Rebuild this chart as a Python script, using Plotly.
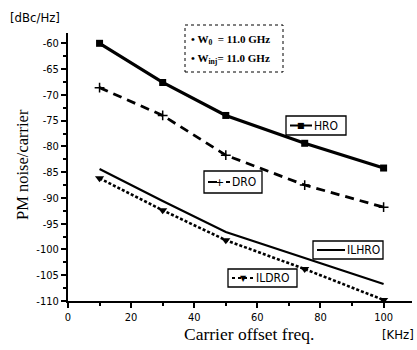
import plotly.graph_objects as go

freq = [10, 30, 50, 75, 100]
hro = [-60.0, -67.6, -74.0, -79.4, -84.2]
dro = [-68.6, -74.0, -81.7, -87.5, -91.8]
ilhro = [-84.4, -90.6, -96.6, -101.6, -106.7]
ildro = [-86.2, -92.4, -98.2, -103.8, -109.8]

x_ticks = [0, 20, 40, 60, 80, 100]
y_ticks = [-60, -65, -70, -75, -80, -85, -90, -95, -100, -105, -110]

W, H = 417, 350
L, R, T, B = 68, 5, 33, 49
PW, PH = W - L - R, H - T - B

def px(x):
    return (x - L) / PW

def py(y):
    return (H - B - y) / PH

NARROW = "DejaVu Sans Condensed, Liberation Sans, Arial, sans-serif"
SERIF = "Liberation Serif, Times New Roman, serif"

fig = go.Figure()
fig.add_trace(go.Scatter(x=freq, y=hro, mode="lines+markers", name="HRO",
                         line=dict(color="black", width=3.2),
                         marker=dict(symbol="square", size=7, color="black")))
fig.add_trace(go.Scatter(x=freq, y=dro, mode="lines+markers", name="DRO",
                         line=dict(color="black", width=2.8, dash="9px,6px"),
                         marker=dict(symbol="cross-thin", size=7, line=dict(width=1.5, color="black"))))
fig.add_trace(go.Scatter(x=freq, y=ilhro, mode="lines", name="ILHRO",
                         line=dict(color="black", width=2.2)))
fig.add_trace(go.Scatter(x=freq, y=ildro, mode="lines+markers", name="ILDRO",
                         line=dict(color="black", width=2.6, dash="3px,2px"),
                         marker=dict(symbol="triangle-down", size=8, color="black")))

shapes = []
annotations = []

boxes = [
    ("HRO", 286, 116, 346, 135, "solid", "■"),
    ("DRO", 204, 171, 262, 193, "dash", "+"),
    ("ILHRO", 313, 241, 383, 259, "solid", ""),
    ("ILDRO", 228, 269, 297, 287, "dot", "▼"),
]
for label, x0, y0, x1, y1, dash, mk in boxes:
    shapes.append(dict(type="rect", xref="paper", yref="paper",
                       x0=px(x0), x1=px(x1), y0=py(y1), y1=py(y0),
                       line=dict(color="black", width=1.3), fillcolor="white", layer="above"))
    ym = (y0 + y1) / 2
    lx0, lx1 = x0 + 4, x0 + (26 if label != "ILHRO" else 32)
    shapes.append(dict(type="line", xref="paper", yref="paper",
                       x0=px(lx0), x1=px(lx1), y0=py(ym), y1=py(ym),
                       line=dict(color="black", width=2, dash=dash), layer="above"))
    if mk:
        annotations.append(dict(xref="paper", yref="paper", x=px((lx0 + lx1) / 2), y=py(ym),
                                text=mk, showarrow=False, xanchor="center", yanchor="middle",
                                font=dict(size=8 if mk != "+" else 11, color="black", family="DejaVu Sans")))
    annotations.append(dict(xref="paper", yref="paper", x=px(lx1), y=py(ym),
                            text=label, showarrow=False, xanchor="left", yanchor="middle",
                            font=dict(size=12, color="black", family=NARROW)))

# info box
shapes.append(dict(type="rect", xref="paper", yref="paper",
                   x0=px(185), x1=px(283), y0=py(72), y1=py(25),
                   line=dict(color="black", width=1, dash="dot"), fillcolor="white", layer="above"))
annotations.append(dict(xref="paper", yref="paper", x=px(189), y=py(40),
                        text="<b>• W<sub>0</sub>  = 11.0 GHz</b>", showarrow=False,
                        xanchor="left", yanchor="middle",
                        font=dict(size=11, color="black", family=SERIF)))
annotations.append(dict(xref="paper", yref="paper", x=px(189), y=py(59),
                        text="<b>• W<sub>inj</sub>= 11.0 GHz</b>", showarrow=False,
                        xanchor="left", yanchor="middle",
                        font=dict(size=11, color="black", family=SERIF)))

# axis titles
annotations.append(dict(xref="paper", yref="paper", x=px(8), y=py(17), text="[dBc/Hz]",
                        showarrow=False, xanchor="left", yanchor="middle",
                        font=dict(size=13, color="black", family=NARROW)))
annotations.append(dict(xref="paper", yref="paper", x=px(22), y=py(165), text="PM noise/carrier",
                        showarrow=False, textangle=-90, xanchor="center", yanchor="middle",
                        font=dict(size=16.5, color="black", family=SERIF)))
annotations.append(dict(xref="paper", yref="paper", x=px(249), y=py(334), text="Carrier offset freq.",
                        showarrow=False, xanchor="center", yanchor="middle",
                        font=dict(size=17.5, color="black", family=SERIF)))
annotations.append(dict(xref="paper", yref="paper", x=px(398), y=py(334), text="[KHz]",
                        showarrow=False, xanchor="center", yanchor="middle",
                        font=dict(size=13, color="black", family=NARROW)))

fig.update_layout(
    width=W, height=H,
    margin=dict(l=L, r=R, t=T, b=B),
    paper_bgcolor="white", plot_bgcolor="white",
    showlegend=False,
    shapes=shapes, annotations=annotations,
    xaxis=dict(range=[0, 109], tickvals=x_ticks, ticktext=[str(v) for v in x_ticks],
               showgrid=False, zeroline=False, showline=True, linecolor="black", linewidth=2,
               ticks="outside", ticklen=5, tickwidth=1.5, tickcolor="black",
               minor=dict(tickvals=[10, 30, 50, 70, 90], ticks="outside", ticklen=3, tickcolor="black"),
               tickfont=dict(size=11, color="black", family=NARROW)),
    yaxis=dict(range=[-110, -58], tickvals=y_ticks, ticktext=[str(v) for v in y_ticks],
               showgrid=False, zeroline=False, showline=True, linecolor="black", linewidth=2,
               ticks="outside", ticklen=5, tickwidth=1.5, tickcolor="black",
               minor=dict(dtick=2.5, ticks="outside", ticklen=3, tickcolor="black"),
               tickfont=dict(size=11, color="black", family=NARROW)),
)

fig.write_html("out.html", config={"displayModeBar": False},
               post_script="document.body.style.margin='0';")
